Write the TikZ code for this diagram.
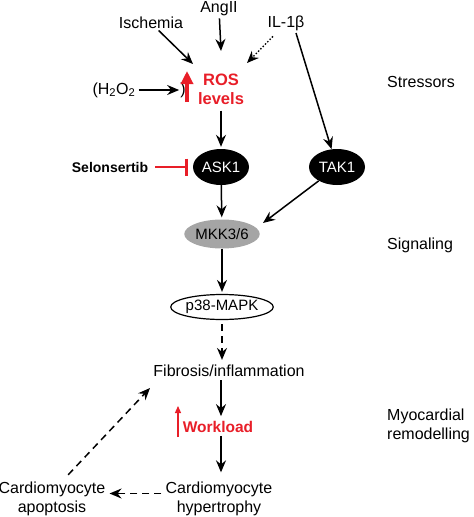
\documentclass[tikz,border=0pt]{standalone}
\usepackage{fontspec}
\setmainfont{Liberation Sans}
\usetikzlibrary{arrows.meta,shapes.geometric}
\definecolor{rosred}{RGB}{232,30,40}
\definecolor{mkkgray}{RGB}{165,165,165}
\begin{document}
\begin{tikzpicture}[x=1pt,y=-1pt,
  lbl/.style={inner sep=0pt, font=\fontsize{16}{19}\selectfont, align=center},
  redlbl/.style={inner sep=0pt, text=rosred, font=\fontsize{16.5}{19}\selectfont\bfseries, align=center},
  ell/.style={ellipse, minimum width=56pt, minimum height=36pt, inner sep=0pt, font=\fontsize{15}{18}\selectfont},
  blackell/.style={ell, fill=black, text=white},
  arr/.style={-{Stealth[length=12pt,width=10pt,inset=4pt]}, line width=1.5pt},
  darr/.style={arr, dash pattern=on 7pt off 5pt},
  dotarr/.style={arr, line width=1.3pt, dash pattern=on 1.5pt off 1.8pt},
  inhib/.style={-{Bar[width=17pt,line width=2.5pt]}, rosred, line width=2.5pt},
  upred/.style={-{Triangle[length=13pt,width=12pt]}, rosred, line width=3.2pt},
  upredthin/.style={-{Triangle[length=7pt,width=6pt]}, rosred, line width=1.3pt}
]
\useasboundingbox (0,0) rectangle (474,517);

% stressors
\node[lbl] (ang) at (219,9) {AngII};
\node[lbl] (isch) at (151,23) {Ischemia};
\node[lbl] (il) at (286,23) {IL-1β};
\node[lbl] (h2o2) at (114,90) {(H\textsubscript{2}O\textsubscript{2}};
\node[lbl] (paren) at (183,90) {)};
\node[redlbl] (ros) at (221,89) {ROS\\levels};
\coordinate (rosUpS) at (187,102);
\coordinate (rosUpN) at (187,71);
\coordinate (rosInL) at (193,64);
\coordinate (rosInT) at (221,51);
\coordinate (rosInR) at (247,63);
\coordinate (ilR) at (296,33);

% signalling
\node[blackell] (ask) at (221,167) {ASK1};
\node[blackell] (tak) at (337,167) {TAK1};
\node[inner sep=0pt, font=\fontsize{14}{17}\selectfont\bfseries] (sel) at (110,167) {Selonsertib};
\node[ell, fill=mkkgray, minimum width=73pt, minimum height=29pt] (mkk) at (222,234) {MKK3/6};
\coordinate (mkkIn) at (263,223);
\node[ell, draw=black, line width=1.2pt, fill=white, minimum width=84pt, minimum height=25pt] (p38) at (222,307) {p38-MAPK};

% remodelling
\node[lbl] (fib) at (229,371) {Fibrosis/inflammation};
\node[redlbl, font=\fontsize{15.5}{18}\selectfont\bfseries] (wl) at (218,427) {Workload};
\coordinate (wlUpS) at (178,437);
\coordinate (wlUpN) at (178,406);
\node[lbl] (hyp) at (219,498.5) {Cardiomyocyte\\hypertrophy};
\node[lbl] (apop) at (52,498.5) {Cardiomyocyte\\apoptosis};
\coordinate (fibIn) at (150,388);

% right labels
\node[lbl, anchor=west] (lstr) at (387,82) {Stressors};
\node[lbl, anchor=west] (lsig) at (387,245) {Signaling};
\node[lbl, anchor=west, align=left] (lrem) at (387,426) {Myocardial\\remodelling};

% connectors
\draw[arr, shorten <=2pt] (isch) -- (rosInL);
\draw[arr, shorten <=2pt] (ang) -- (rosInT);
\draw[dotarr, shorten <=8pt] (il) -- (rosInR);
\draw[arr] (ilR) -- (tak);
\draw[arr, shorten <=3pt, shorten >=1pt] (h2o2) -- (paren);
\draw[upred] (rosUpS) -- (rosUpN);
\draw[arr, shorten <=6pt, shorten >=2pt] (ros) -- (ask);
\draw[inhib, shorten <=7pt, shorten >=5pt] (sel) -- (ask);
\draw[arr, shorten >=2pt] (ask) -- (mkk);
\draw[arr] (tak) -- (mkkIn);
\draw[arr, shorten >=2pt] (mkk) -- (p38);
\draw[darr, shorten <=4pt, shorten >=5pt] (p38) -- (p38 |- fib.north);
\draw[arr, shorten <=3pt, shorten >=5pt] (fib.south -| ask) -- (wl.north -| ask);
\draw[arr, shorten <=3pt, shorten >=9pt] (wl.south -| ask) -- (hyp.north -| ask);
\draw[upredthin] (wlUpS) -- (wlUpN);
\draw[darr, shorten <=4pt, shorten >=4pt] ([yshift=5pt]hyp.west) -- ([yshift=5pt]apop.east);
\draw[darr, shorten <=9pt] ([xshift=10pt]apop.north) -- (fibIn);
\end{tikzpicture}
\end{document}
